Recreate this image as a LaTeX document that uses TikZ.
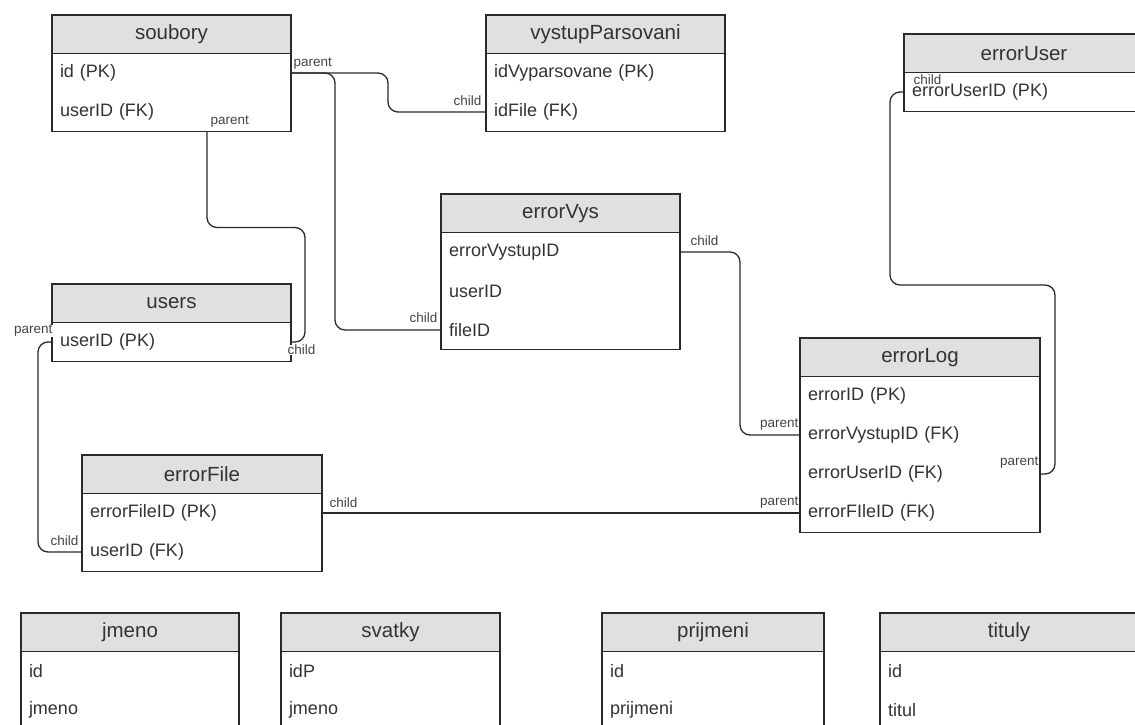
\documentclass[tikz,border=0pt]{standalone}
\usepackage{fontspec}
\setmainfont{Liberation Sans}
\usetikzlibrary{calc}
\definecolor{linec}{HTML}{2A2A2A}
\definecolor{txt}{HTML}{333333}
\definecolor{hdrfill}{HTML}{E0E0E0}
\definecolor{lblc}{HTML}{444444}
\newcommand\hdrfont{\fontsize{20.5}{24}\selectfont}
\newcommand\rowfont{\fontsize{18}{21}\selectfont}
\newcommand\lblfont{\fontsize{13.5}{15}\selectfont}
\tikzset{
  hdr/.style={draw=linec, fill=hdrfill, line width=1.3pt, minimum height=38.5pt, inner sep=0pt, outer sep=0pt, text=txt, font=\hdrfont, anchor=north west},
  rowbox/.style={minimum height=39pt, inner ysep=0pt, inner xsep=8pt, outer sep=0pt, text=txt, font=\rowfont, anchor=north west, align=left},
  boxline/.style={draw=linec, line width=1.3pt},
  conn/.style={draw=linec, line width=1.3pt, rounded corners=10pt},
  lbl/.style={font=\lblfont, text=lblc, inner sep=0.5pt, fill=white},
}
\newcommand\ertable[7]{%
  \node[hdr, minimum width=#4pt] (#1-h) at (#2,#3) {#5};
  \pgfmathsetmacro\ertw{#4-16}
  \foreach \rr [count=\ii] in {#6} {
    \pgfmathsetmacro\ery{-(\ii-1)*39}
    \node[rowbox, text width=\ertw pt] (#1-\ii) at ([yshift=\ery pt]#1-h.south west) {\rr};
  }
  \draw[boxline] (#1-h.north west) rectangle (#1-#7.south east);
}
\begin{document}
\begin{tikzpicture}[x=1pt,y=-1pt]
\useasboundingbox (0,0) rectangle (1135,725);
\clip (0,0) rectangle (1135,725);
\fill[white] (0,0) rectangle (1135,725);

\ertable{soubory}{52}{15}{239}{soubory}{id (PK),userID (FK)}{2}
\ertable{vystupParsovani}{486}{15}{239}{vystupParsovani}{idVyparsovane (PK),idFile (FK)}{2}
\ertable{errorUser}{904}{34}{240}{errorUser}{errorUserID (PK)}{1}
\ertable{users}{52}{284}{239}{users}{userID (PK)}{1}
\ertable{errorVys}{441}{194}{239}{errorVys}{errorVystupID,userID,fileID}{3}
\ertable{errorLog}{800}{338}{240}{errorLog}{errorID (PK),errorVystupID (FK),errorUserID (FK),errorFIleID (FK)}{4}
\ertable{errorFile}{82}{455}{240}{errorFile}{errorFileID (PK),userID (FK)}{2}
\ertable{jmeno}{21}{613}{218}{jmeno}{id,jmeno}{2}
\ertable{svatky}{281}{613}{219}{svatky}{idP,jmeno}{2}
\ertable{prijmeni}{602}{613}{222}{prijmeni}{id,prijmeni}{2}
\ertable{tituly}{880}{613}{258}{tituly}{id,titul}{2}

\coordinate (sp) at ([xshift=155pt]soubory-2.south west);

\draw[conn] (soubory-1.east) -- ++(97,0) |- (vystupParsovani-2.west);
\draw[conn] (soubory-1.east) -- ++(44,0) |- (errorVys-3.west);
\draw[conn] (sp) -- ++(0,96) -- ++(98,0) |- (users-1.east);
\draw[conn] (users-1.west) -- ++(-14,0) |- (errorFile-2.west);
\draw[conn] (errorVys-1.east) -- ++(60,0) |- (errorLog-2.west);
\draw[conn] (errorUser-1.west) -- ++(-14,0) -- ++(0,193) -| ($(errorLog-3.east)+(15,0)$) -- (errorLog-3.east);
\draw[conn] (errorFile-1.east) -- (errorFile-1.east -| errorLog-4.west);

\node[lbl, anchor=west] (l1) at ([shift={(2,-9.5)}]soubory-1.east) {parent};
\node[lbl, anchor=east] (l2) at ([shift={(-4,-11.5)}]vystupParsovani-2.west) {child};
\node[lbl, anchor=west] (l3) at ([shift={(3,-10)}]sp) {parent};
\node[lbl, anchor=east] (l4) at ([shift={(-3,-12)}]errorVys-3.west) {child};
\node[lbl, anchor=west] (l5) at ([shift={(-4,8)}]users-1.east) {child};
\node[lbl, anchor=east] (l6) at ([shift={(1,-11)}]users-1.west) {parent};
\node[lbl, anchor=east] (l7) at ([shift={(-3,-11.5)}]errorFile-2.west) {child};
\node[lbl, anchor=west] (l8) at ([shift={(10,-11)}]errorVys-1.east) {child};
\node[lbl, anchor=east] (l9) at ([shift={(-1,-10.5)}]errorLog-2.west) {parent};
\node[lbl, anchor=east] (l10) at ([shift={(-1,-10.5)}]errorLog-4.west) {parent};
\node[lbl, anchor=west] (l11) at ([shift={(7,-10.5)}]errorFile-1.east) {child};
\node[lbl, anchor=west] (l12) at ([shift={(9,-12)}]errorUser-1.west) {child};
\node[lbl, anchor=east] (l13) at ([shift={(-1,-11.5)}]errorLog-3.east) {parent};
\end{tikzpicture}
\end{document}
